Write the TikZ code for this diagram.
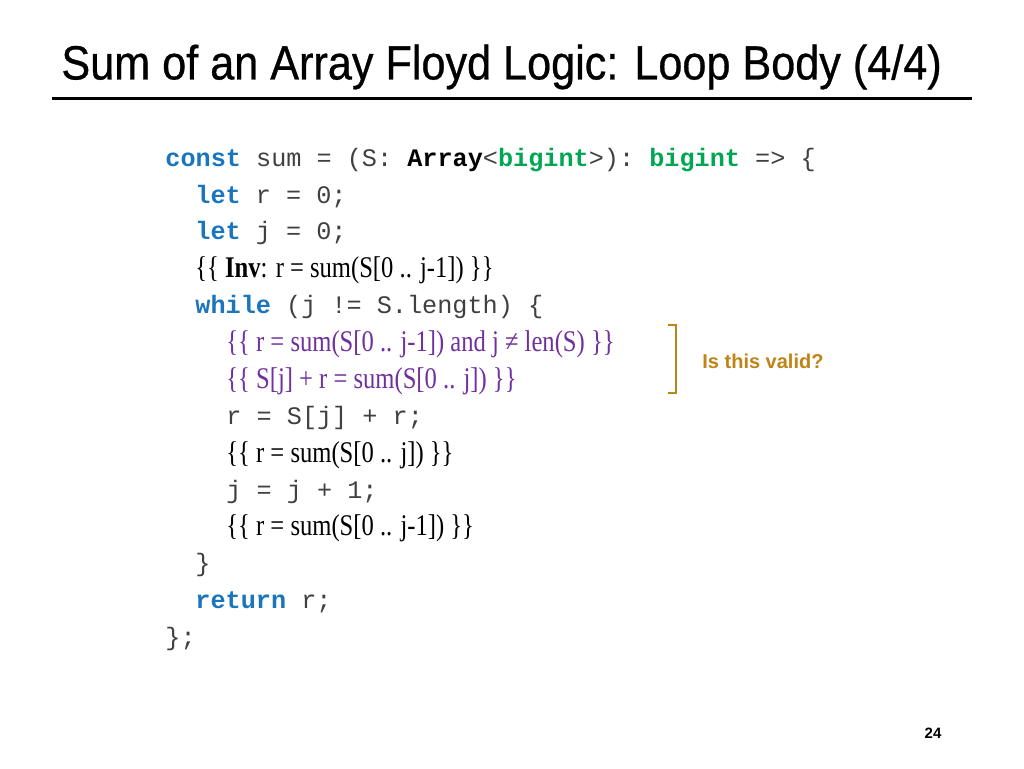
\documentclass[tikz,border=0pt]{standalone}
\usepackage{fontspec}
\setmainfont{Liberation Serif}
\setsansfont{Liberation Sans}
\setmonofont{Liberation Mono}
\newfontfamily\assertfont[FakeStretch=0.82]{Liberation Serif}
\newfontfamily\titlefont[FakeStretch=0.9,FakeBold=0.6]{Liberation Sans}
\definecolor{kwblue}{HTML}{1A75BC}
\definecolor{tygreen}{HTML}{00A651}
\definecolor{apurple}{HTML}{7030A0}
\definecolor{qorange}{HTML}{C08316}
\definecolor{codegray}{HTML}{404040}
\newcommand{\kw}[1]{\textcolor{kwblue}{\textbf{#1}}}
\newcommand{\ty}[1]{\textcolor{tygreen}{\textbf{#1}}}
\tikzset{
  code/.style={anchor=west, inner sep=0pt, font=\fontsize{12.6}{14}\ttfamily, text=codegray},
  assert/.style={anchor=west, inner sep=0pt, font=\fontsize{15}{17}\assertfont},
}
\begin{document}
\begin{tikzpicture}[x=0.5pt,y=-0.5pt]
\useasboundingbox (0,0) rectangle (1024,768);
\node[anchor=west, inner sep=0pt, font=\fontsize{24}{28}\titlefont] (title) at (61,67) {Sum of an Array Floyd Logic: Loop Body (4/4)};
\draw[line width=1.5pt] (52,98) -- (972,98);
\node[code] (l1) at (165,160) {\kw{const} sum = (S: \textcolor{black}{\textbf{Array}}<\ty{bigint}>): \ty{bigint} => \{};
\node[code] (l2) at (195,197) {\kw{let} r = 0;};
\node[code] (l3) at (195,233) {\kw{let} j = 0;};
\node[assert] (l4) at (195,270) {\{\{ \textbf{Inv}: r = sum(S[0 .. j-1]) \}\}};
\node[code] (l5) at (195,307) {\kw{while} (j != S.length) \{};
\node[assert, text=apurple] (l6) at (226,344) {\{\{ r = sum(S[0 .. j-1]) and j ≠ len(S) \}\}};
\node[assert, text=apurple] (l7) at (226,381) {\{\{ S[j] + r = sum(S[0 .. j]) \}\}};
\node[code] (l8) at (226,418) {r = S[j] + r;};
\node[assert] (l9) at (226,455) {\{\{ r = sum(S[0 .. j]) \}\}};
\node[code] (l10) at (226,492) {j = j + 1;};
\node[assert] (l11) at (226,528) {\{\{ r = sum(S[0 .. j-1]) \}\}};
\node[code] (l12) at (195,565) {\}};
\node[code] (l13) at (195,602) {\kw{return} r;};
\node[code] (l14) at (165,639) {\};};
\draw[qorange, line width=1.3pt] (668,325) -- (676,325) -- (676,393) -- (668,393);
\node[anchor=west, inner sep=0pt, text=qorange, font=\fontsize{10}{12}\sffamily\bfseries] (q) at (702,361) {Is this valid?};
\node[inner sep=0pt, font=\fontsize{7.5}{9}\sffamily\bfseries] (pg) at (933,733) {24};
\end{tikzpicture}
\end{document}
